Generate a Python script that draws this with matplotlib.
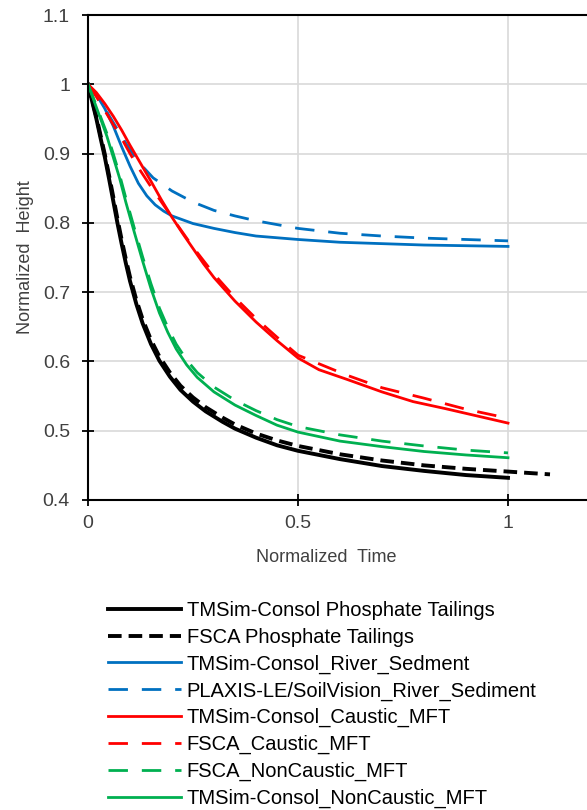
import numpy as np
import matplotlib.pyplot as plt

plt.rcParams['font.family'] = ['Liberation Sans', 'DejaVu Sans']

# TMSim-Consol Phosphate Tailings
x_phos = [0, 0.01, 0.02, 0.03, 0.04, 0.05, 0.06, 0.07, 0.08, 0.09, 0.1, 0.115, 0.13, 0.15, 0.17, 0.195,
          0.22, 0.25, 0.28, 0.32, 0.35, 0.4, 0.45, 0.5, 0.55, 0.6, 0.7, 0.8, 0.9, 1.0]
y_phos = [1, 0.975, 0.95, 0.922, 0.895, 0.864, 0.832, 0.8, 0.77, 0.742, 0.716, 0.683, 0.655, 0.625, 0.601, 0.578,
          0.559, 0.542, 0.528, 0.513, 0.503, 0.49, 0.479, 0.471, 0.465, 0.459, 0.449, 0.442, 0.436, 0.432]
# FSCA Phosphate Tailings
x_phos_f = [0, 0.01, 0.02, 0.03, 0.04, 0.05, 0.06, 0.07, 0.08, 0.09, 0.1, 0.115, 0.13, 0.15, 0.17, 0.195,
            0.22, 0.25, 0.28, 0.32, 0.35, 0.4, 0.45, 0.5, 0.55, 0.6, 0.7, 0.8, 0.9, 1.0, 1.1]
y_phos_f = [1, 0.977, 0.953, 0.926, 0.899, 0.869, 0.838, 0.806, 0.776, 0.748, 0.722, 0.689, 0.661, 0.631, 0.607, 0.584,
            0.565, 0.548, 0.534, 0.519, 0.509, 0.496, 0.486, 0.478, 0.472, 0.466, 0.457, 0.45, 0.445, 0.441, 0.437]

# River sediment
x_riv = [0, 0.02, 0.04, 0.06, 0.08, 0.1, 0.12, 0.14, 0.16, 0.18, 0.2, 0.25, 0.3, 0.35, 0.4, 0.5, 0.6, 0.8, 1.0]
y_riv = [1, 0.985, 0.965, 0.94, 0.91, 0.882, 0.857, 0.839, 0.826, 0.817, 0.81, 0.799, 0.792, 0.786, 0.781, 0.776,
         0.772, 0.768, 0.766]
x_riv_p = [0, 0.03, 0.06, 0.09, 0.12, 0.155, 0.2, 0.25, 0.3, 0.35, 0.4, 0.5, 0.6, 0.7, 0.8, 1.0]
y_riv_p = [1, 0.975, 0.945, 0.915, 0.888, 0.865, 0.846, 0.83, 0.818, 0.81, 0.803, 0.792, 0.785, 0.781, 0.778, 0.774]

# Caustic MFT
x_cau = [0, 0.02, 0.04, 0.06, 0.08, 0.1, 0.125, 0.15, 0.175, 0.2, 0.225, 0.25, 0.275, 0.3, 0.35, 0.4, 0.45,
         0.5, 0.55, 0.617, 0.7, 0.774, 0.85, 0.9, 1.0]
y_cau = [1, 0.988, 0.972, 0.954, 0.934, 0.912, 0.886, 0.86, 0.833, 0.808, 0.785, 0.763, 0.741, 0.721, 0.687, 0.657,
         0.63, 0.605, 0.588, 0.574, 0.556, 0.542, 0.532, 0.525, 0.511]
x_cau_f = [0, 0.02, 0.04, 0.06, 0.08, 0.1, 0.125, 0.15, 0.175, 0.2, 0.25, 0.3, 0.35, 0.4, 0.45, 0.5, 0.617,
           0.7, 0.8, 0.9, 1.0]
y_cau_f = [1, 0.982, 0.962, 0.942, 0.922, 0.9, 0.875, 0.852, 0.83, 0.808, 0.765, 0.726, 0.692, 0.662, 0.635, 0.609,
           0.58, 0.562, 0.547, 0.531, 0.518]

# NonCaustic MFT
x_nc = [0, 0.015, 0.03, 0.045, 0.06, 0.075, 0.09, 0.11, 0.13, 0.15, 0.17, 0.19, 0.21, 0.235, 0.26, 0.3, 0.35,
        0.4, 0.45, 0.5, 0.6, 0.7, 0.8, 0.9, 1.0]
y_nc = [1, 0.975, 0.95, 0.925, 0.895, 0.865, 0.83, 0.787, 0.745, 0.705, 0.67, 0.642, 0.618, 0.595, 0.577, 0.556,
        0.537, 0.522, 0.508, 0.498, 0.485, 0.477, 0.47, 0.465, 0.461]
x_nc_f = [0, 0.015, 0.03, 0.045, 0.06, 0.075, 0.09, 0.11, 0.13, 0.15, 0.17, 0.19, 0.21, 0.235, 0.26, 0.3, 0.35,
          0.4, 0.45, 0.5, 0.6, 0.7, 0.8, 0.9, 1.0]
y_nc_f = [1, 0.977, 0.953, 0.929, 0.9, 0.87, 0.836, 0.793, 0.751, 0.712, 0.677, 0.649, 0.625, 0.602, 0.584, 0.563,
          0.544, 0.529, 0.516, 0.506, 0.494, 0.485, 0.478, 0.472, 0.468]

blue = '#0070C0'
red = '#FF0000'
green = '#00B050'

fig = plt.figure(figsize=(5.87, 8.10), dpi=100)
ax = fig.add_axes([88 / 587, 1 - 500 / 810, 504 / 587, 485 / 810])

ax.plot(x_phos, y_phos, color='black', lw=2.8, label='TMSim-Consol Phosphate Tailings')
ax.plot(x_phos_f, y_phos_f, color='black', lw=2.8, dashes=(3.5, 1.8), label='FSCA Phosphate Tailings')
ax.plot(x_riv, y_riv, color=blue, lw=2.0, label='TMSim-Consol_River_Sedment')
ax.plot(x_riv_p, y_riv_p, color=blue, lw=2.0, dashes=(7, 5), label='PLAXIS-LE/SoilVision_River_Sediment')
ax.plot(x_cau, y_cau, color=red, lw=2.0, label='TMSim-Consol_Caustic_MFT')
ax.plot(x_cau_f, y_cau_f, color=red, lw=2.0, dashes=(7, 5), label='FSCA_Caustic_MFT')
ax.plot(x_nc_f, y_nc_f, color=green, lw=2.0, dashes=(7, 5), label='FSCA_NonCaustic_MFT')
ax.plot(x_nc, y_nc, color=green, lw=2.0, label='TMSim-Consol_NonCaustic_MFT')

ax.set_xlim(0, 1.2)
ax.set_ylim(0.4, 1.1)
ax.set_xticks([0, 0.5, 1])
ax.set_xticklabels(['0', '0.5', '1'])
ax.set_yticks(np.arange(0.4, 1.11, 0.1))
ax.set_yticklabels(['0.4', '0.5', '0.6', '0.7', '0.8', '0.9', '1', '1.1'])
ax.grid(True, color='#D9D9D9', lw=1.2)
ax.set_axisbelow(True)
ax.tick_params(direction='inout', length=8, width=1.3, labelsize=14, colors='black',
               labelcolor='#404040')
ax.tick_params(axis='y', pad=9)
ax.tick_params(axis='x', pad=7)
for s in ['left', 'bottom', 'top']:
    ax.spines[s].set_linewidth(1.5)
ax.spines['right'].set_visible(False)

ax.set_xlabel('Normalized  Time', fontsize=13, color='#404040')
ax.xaxis.set_label_coords((326 - 88) / 504, -0.1)
ax.set_ylabel('Normalized  Height', fontsize=13, color='#404040')
ax.yaxis.set_label_coords(-0.108, 0.5)

fig.legend(loc='upper left', bbox_to_anchor=(100 / 587, 1 - 593 / 810), frameon=False,
           fontsize=14.5, handlelength=3.6, handletextpad=0.3, labelspacing=0.38,
           borderaxespad=0)

fig.savefig('out.png', dpi=100)
